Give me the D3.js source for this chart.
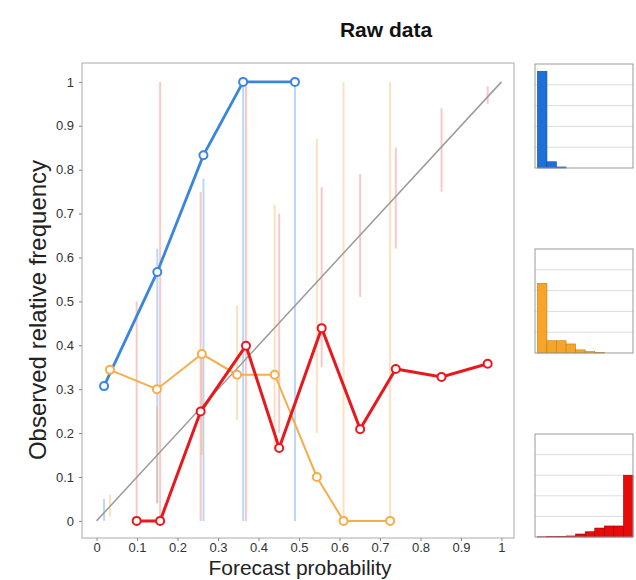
<!DOCTYPE html>
<html>
<head>
<meta charset="utf-8">
<script src="https://cdn.jsdelivr.net/npm/d3@7"></script>
<style>
	body { margin: 0; background: #fff; }
	svg { font-family: 'Liberation Sans', Arial, sans-serif; }
	.axis text { fill: #333; font-size: 13px; }
	.axis line { stroke: #888; }
</style>
</head>
<body>
<div id="chart"></div>
<script>
// reliability points (forecast probability, observed relative frequency)
var blueX = [0.0185, 0.150, 0.264, 0.362, 0.490];
var blueY = [0.307, 0.567, 0.833, 1.0, 1.0];
var orangeX = [0.033, 0.149, 0.260, 0.347, 0.440, 0.544, 0.610, 0.725];
var orangeY = [0.344, 0.300, 0.380, 0.333, 0.333, 0.100, 0, 0];
var redX = [0.099, 0.157, 0.257, 0.369, 0.451, 0.556, 0.651, 0.739, 0.852, 0.966];
var redY = [0, 0, 0.249, 0.399, 0.166, 0.439, 0.209, 0.346, 0.328, 0.358];

// consistency bars (low, high) at each point
var blueLo = [0, 0.04, 0, 0, 0];
var blueHi = [0.05, 0.62, 0.78, 1, 1];
var orangeLo = [0.01, 0.04, 0.15, 0.23, 0.16, 0.20, 0, 0];
var orangeHi = [0.06, 0.26, 0.37, 0.49, 0.72, 0.87, 1, 1];
var redLo = [0, 0, 0, 0, 0.20, 0.35, 0.51, 0.62, 0.75, 0.95];
var redHi = [0.5, 1, 0.75, 1, 0.70, 0.76, 0.79, 0.85, 0.94, 0.99];

// forecast histograms, relative frequency per bin
var binStarts = [0, 0.1, 0.2, 0.3, 0.4, 0.5, 0.6, 0.7, 0.8, 0.9];
var blueHist = [0.93, 0.06, 0.01, 0, 0, 0, 0, 0, 0, 0];
var orangeHist = [0.67, 0.118, 0.118, 0.087, 0.03, 0.013, 0.003, 0, 0, 0];
var redHist = [0.002, 0.003, 0.005, 0.01, 0.029, 0.051, 0.087, 0.107, 0.107, 0.60];

var mainTicks = [0, 0.1, 0.2, 0.3, 0.4, 0.5, 0.6, 0.7, 0.8, 0.9, 1];
var histGrid = [0.2, 0.4, 0.6, 0.8];

var series = [
	{ name: 'blue', x: blueX, y: blueY, lo: blueLo, hi: blueHi, hist: blueHist,
	  color: '#3a86dc', bar: 'rgba(60,140,225,0.35)', width: 2.8, fill: '#1f6fd8', edge: '#154f9e', top: 64, bottom: 168 },
	{ name: 'orange', x: orangeX, y: orangeY, lo: orangeLo, hi: orangeHi, hist: orangeHist,
	  color: '#f4ae4c', bar: 'rgba(246,170,70,0.35)', width: 2, fill: '#f5a62a', edge: '#c17e16', top: 249, bottom: 353 },
	{ name: 'red', x: redX, y: redY, lo: redLo, hi: redHi, hist: redHist,
	  color: '#e8191e', bar: 'rgba(235,60,60,0.28)', width: 3, fill: '#e80a0a', edge: '#a00000', top: 434, bottom: 537 }
];

var width = 636, height = 580;

var svg = d3.select('#chart')
	.append('svg')
	.attr('width', width)
	.attr('height', height);

var x = d3.scaleLinear().domain([-0.036, 1.031]).range([82, 514]);
var y = d3.scaleLinear().domain([-0.039, 1.043]).range([538, 63]);

svg.append('text')
	.attr('x', 386)
	.attr('y', 37)
	.attr('text-anchor', 'middle')
	.attr('font-size', '21px')
	.attr('font-weight', 'bold')
	.attr('fill', '#111')
	.text('Raw data');

// consistency bars
series.forEach(function(s) {
	svg.append('g')
		.selectAll('line')
		.data(s.x)
		.enter().append('line')
		.attr('x1', function(d) { return x(d); })
		.attr('x2', function(d) { return x(d); })
		.attr('y1', function(d, i) { return y(s.lo[i]); })
		.attr('y2', function(d, i) { return y(s.hi[i]); })
		.attr('stroke', s.bar)
		.attr('stroke-width', 2);
});

// diagonal
svg.append('line')
	.attr('x1', x(0)).attr('y1', y(0))
	.attr('x2', x(1)).attr('y2', y(1))
	.attr('stroke', '#9a9a9a')
	.attr('stroke-width', 1.5);

var line = d3.line()
	.x(function(d) { return x(d[0]); })
	.y(function(d) { return y(d[1]); });

series.forEach(function(s) {
	var pts = s.x.map(function(d, i) { return [d, s.y[i]]; });
	svg.append('path')
		.datum(pts)
		.attr('fill', 'none')
		.attr('stroke', s.color)
		.attr('stroke-width', s.width)
		.attr('d', line);
	svg.append('g')
		.selectAll('circle')
		.data(pts)
		.enter().append('circle')
		.attr('cx', function(d) { return x(d[0]); })
		.attr('cy', function(d) { return y(d[1]); })
		.attr('r', 4)
		.attr('fill', '#fff')
		.attr('stroke', s.color)
		.attr('stroke-width', 2);
});

// box and axes
svg.append('rect')
	.attr('x', 82).attr('y', 63)
	.attr('width', 432).attr('height', 475)
	.attr('fill', 'none')
	.attr('stroke', '#aaa');

var yAxis = svg.append('g')
	.attr('class', 'axis')
	.attr('transform', 'translate(82,0)')
	.call(d3.axisLeft(y).tickValues(mainTicks).tickFormat(d3.format('~g')).tickSize(3).tickPadding(5));
yAxis.select('.domain').remove();

var xAxis = svg.append('g')
	.attr('class', 'axis')
	.attr('transform', 'translate(0,538)')
	.call(d3.axisBottom(x).tickValues(mainTicks).tickFormat(d3.format('~g')).tickSize(3).tickPadding(2));
xAxis.select('.domain').remove();

svg.append('text')
	.attr('transform', 'translate(46,310) rotate(-90)')
	.attr('text-anchor', 'middle')
	.attr('font-size', '24px')
	.attr('fill', '#222')
	.text('Observed relative frequency');

svg.append('text')
	.attr('x', 300)
	.attr('y', 575)
	.attr('text-anchor', 'middle')
	.attr('font-size', '21px')
	.attr('fill', '#222')
	.text('Forecast probability');

// histograms
var hx = d3.scaleLinear().domain([-0.025, 1.0]).range([535, 633]);

series.forEach(function(s) {
	var hy = d3.scaleLinear().domain([0, 1]).range([s.bottom, s.top]);
	var g = svg.append('g');

	g.selectAll('.grid')
		.data(histGrid)
		.enter().append('line')
		.attr('x1', hx(-0.025)).attr('x2', hx(1.0))
		.attr('y1', function(d) { return hy(d); })
		.attr('y2', function(d) { return hy(d); })
		.attr('stroke', '#ddd');

	g.selectAll('.bar')
		.data(binStarts)
		.enter().append('rect')
		.attr('x', function(d) { return hx(d); })
		.attr('y', function(d, i) { return hy(s.hist[i]); })
		.attr('width', hx(0.1) - hx(0))
		.attr('height', function(d, i) { return s.bottom - hy(s.hist[i]); })
		.attr('fill', s.fill)
		.attr('stroke', s.edge)
		.attr('stroke-width', 0.6);

	g.append('rect')
		.attr('x', hx(-0.025)).attr('y', s.top)
		.attr('width', hx(1.0) - hx(-0.025)).attr('height', s.bottom - s.top)
		.attr('fill', 'none')
		.attr('stroke', '#999');
});
</script>
</body>
</html>
